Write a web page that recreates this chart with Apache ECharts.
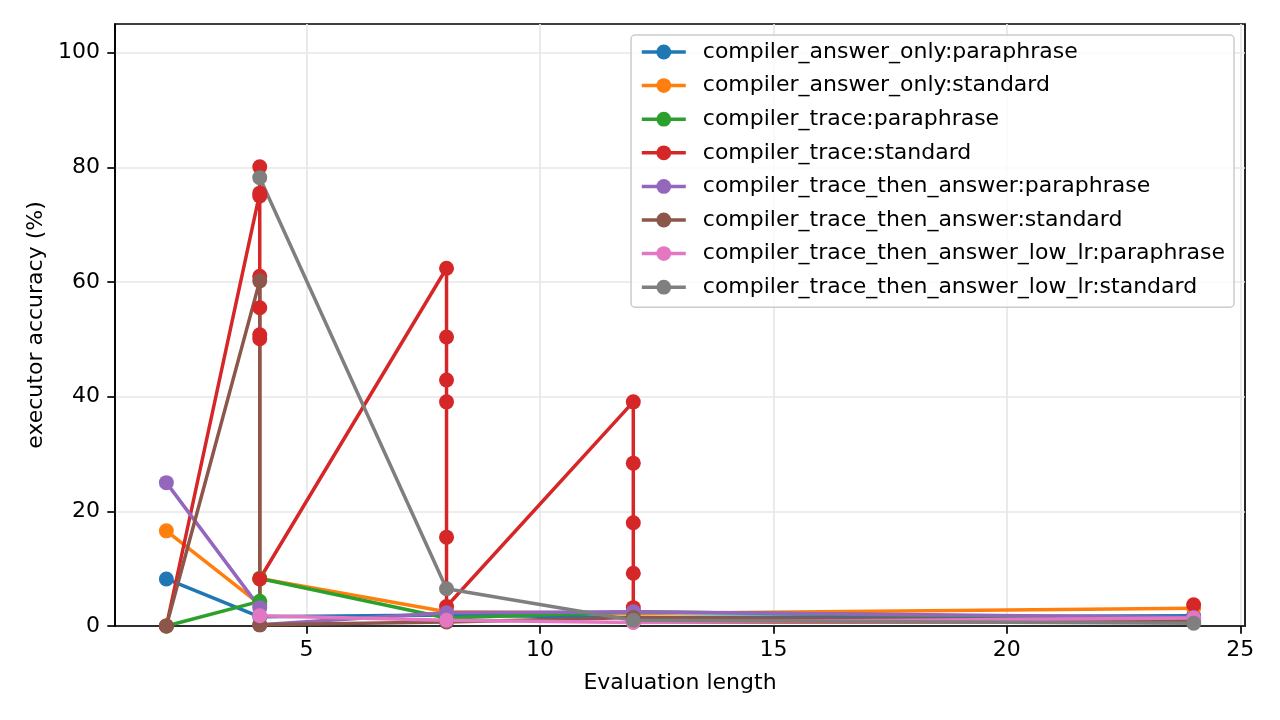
<!DOCTYPE html>
<html>
<head>
<meta charset="utf-8">
<script src="https://cdn.jsdelivr.net/npm/echarts@6/dist/echarts.min.js"></script>
<style>
html,body{margin:0;padding:0;background:#fff;}
#chart{width:1280px;height:720px;}
</style>
</head>
<body>
<div id="chart"></div>
<script>
// ---- data ----
const seriesNames = [
  'compiler_answer_only:paraphrase',
  'compiler_answer_only:standard',
  'compiler_trace:paraphrase',
  'compiler_trace:standard',
  'compiler_trace_then_answer:paraphrase',
  'compiler_trace_then_answer:standard',
  'compiler_trace_then_answer_low_lr:paraphrase',
  'compiler_trace_then_answer_low_lr:standard'
];
const answerOnlyParaX = [2, 4, 8, 12, 24];
const answerOnlyParaY = [8.2, 1.6, 1.9, 1.5, 1.8];
const answerOnlyStdX = [2, 4, 4, 8, 12, 24];
const answerOnlyStdY = [16.6, 3.8, 8.3, 2.5, 2.2, 3.1];
const traceParaX = [2, 4, 4, 8, 12, 24];
const traceParaY = [0, 4.3, 8.3, 1.4, 2.5, 1.3];
const traceStdX = [2, 4, 4, 4, 4, 4, 4, 4, 4, 8, 8, 8, 8, 8, 8, 12, 12, 12, 12, 12, 12, 24, 24];
const traceStdY = [0, 75.5, 80.1, 75.0, 61.0, 55.5, 50.8, 50.1, 8.2, 62.4, 50.4, 42.9, 39.1, 15.5, 3.4, 39.1, 28.4, 18.0, 9.2, 3.2, 0.7, 0.7, 3.7];
const thenAnswerParaX = [2, 4, 4, 8, 12, 24];
const thenAnswerParaY = [25.0, 3.2, 0.2, 2.3, 2.5, 1.5];
const thenAnswerStdX = [2, 4, 4, 8, 12, 24];
const thenAnswerStdY = [0, 60.2, 0.2, 0.7, 1.5, 0.9];
const lowLrParaX = [4, 8, 12, 24];
const lowLrParaY = [1.8, 1.0, 0.6, 1.4];
const lowLrStdX = [4, 8, 12, 24];
const lowLrStdY = [78.2, 6.5, 1.0, 0.5];
const xTicks = [5, 10, 15, 20, 25];
const yTicks = [0, 20, 40, 60, 80, 100];

const colors = ['#1f77b4', '#ff7f0e', '#2ca02c', '#d62728', '#9467bd', '#8c564b', '#e377c2', '#7f7f7f'];
const xs = [answerOnlyParaX, answerOnlyStdX, traceParaX, traceStdX, thenAnswerParaX, thenAnswerStdX, lowLrParaX, lowLrStdX];
const ys = [answerOnlyParaY, answerOnlyStdY, traceParaY, traceStdY, thenAnswerParaY, thenAnswerStdY, lowLrParaY, lowLrStdY];

const FONT = 'DejaVu Sans';
const series = seriesNames.map((name, i) => ({
  name: name,
  type: 'line',
  data: xs[i].map((x, j) => [x, ys[i][j]]),
  symbol: 'circle',
  symbolSize: 15,
  color: colors[i],
  lineStyle: { width: 3.5, color: colors[i] },
  itemStyle: { color: colors[i] },
  emphasis: { disabled: true },
  animation: false
}));

const chart = echarts.init(document.getElementById('chart'), null, { renderer: 'canvas' });
chart.setOption({
  backgroundColor: '#ffffff',
  animation: false,
  textStyle: { fontFamily: FONT },
  grid: {
    left: 115, right: 35, top: 24, bottom: 94,
    show: true, borderColor: '#000', borderWidth: 1.7, backgroundColor: 'transparent'
  },
  legend: {
    right: 46, top: 35,
    orient: 'vertical',
    align: 'left',
    itemWidth: 44,
    itemHeight: 18.5,
    itemGap: 11.6,
    padding: [6, 9, 9, 9],
    backgroundColor: 'rgba(255,255,255,0.8)',
    borderColor: '#cccccc',
    borderWidth: 1.5,
    borderRadius: 4,
    lineStyle: { width: 3.5 },
    textStyle: { fontFamily: FONT, fontSize: 22, color: '#000', lineHeight: 22, padding: [0, 0, 0, 12] },
    data: seriesNames
  },
  xAxis: {
    type: 'value',
    min: 0.9, max: 25.1,
    splitNumber: 5,
    name: 'Evaluation length',
    nameLocation: 'middle',
    nameGap: 46,
    nameTextStyle: { fontFamily: FONT, fontSize: 22, color: '#000' },
    axisLine: { show: true, onZero: false, lineStyle: { color: '#000', width: 1.7 } },
    axisTick: { show: true, length: 7.7, lineStyle: { color: '#000', width: 1.7 }, customValues: xTicks },
    axisLabel: { fontFamily: FONT, fontSize: 22, color: '#000', margin: 13, customValues: xTicks },
    splitLine: { show: true, lineStyle: { color: '#e7e7e7', width: 1.7 } }
  },
  yAxis: {
    type: 'value',
    min: 0, max: 105,
    interval: 20,
    name: 'executor accuracy (%)',
    nameLocation: 'middle',
    nameGap: 67,
    nameRotate: 90,
    nameTextStyle: { fontFamily: FONT, fontSize: 22, color: '#000' },
    axisLine: { show: true, lineStyle: { color: '#000', width: 1.7 } },
    axisTick: { show: true, length: 7.7, lineStyle: { color: '#000', width: 1.7 }, customValues: yTicks },
    axisLabel: { fontFamily: FONT, fontSize: 22, color: '#000', margin: 15, customValues: yTicks },
    splitLine: { show: true, lineStyle: { color: '#e7e7e7', width: 1.7 } }
  },
  series: series
});
</script>
</body>
</html>
